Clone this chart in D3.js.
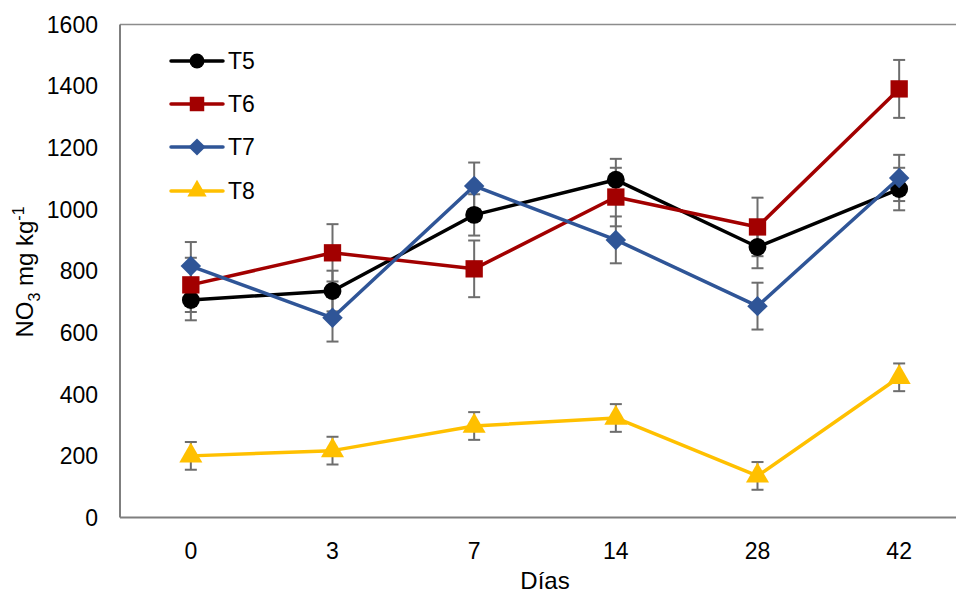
<!DOCTYPE html>
<html>
<style>
body { margin: 0; background: #fff; }
text { font-family: "Liberation Sans", Arial, sans-serif; fill: #000; }
</style>
<svg width="956" height="596"></svg>
<script src="https://cdn.jsdelivr.net/npm/d3@7"></script>
<script>
// chart data
var days = ["0", "3", "7", "14", "28", "42"];
var yTicks = [0, 200, 400, 600, 800, 1000, 1200, 1400, 1600];
var seriesNames = ["T5", "T6", "T7", "T8"];
var t5 = [706, 735, 982, 1096, 878, 1066];
var t5err = [66, 66, 67, 68, 69, 69];
var t6 = [755, 859, 807, 1040, 943, 1391];
var t6err = [88, 93, 92, 95, 95, 94];
var t7 = [816, 648, 1076, 901, 686, 1102];
var t7err = [78, 77, 76, 76, 76, 75];
var t8 = [200, 217, 297, 323, 135, 455];
var t8err = [45, 45, 45, 45, 45, 45];

var colors = ["#000000", "#A20000", "#2F5597", "#FFC000"];
// diamond = square turned 45 degrees, like the spreadsheet marker
var shapes = [d3.symbolCircle, d3.symbolSquare, d3.symbolSquare, d3.symbolTriangle];
var turns = [0, 0, 45, 0];
var sizes = [250, 300, 210, 230];

var series = [
  { name: seriesNames[0], vals: t5, err: t5err },
  { name: seriesNames[1], vals: t6, err: t6err },
  { name: seriesNames[2], vals: t7, err: t7err },
  { name: seriesNames[3], vals: t8, err: t8err }
];

var svg = d3.select("svg");
var pLeft = 120, pRight = 970, pTop = 24.5, pBottom = 517.5;

var x = d3.scaleBand().domain(days).range([pLeft, pRight]).padding(0);
var y = d3.scaleLinear().domain([0, 1600]).range([pBottom, pTop]);
var cx = function(d) { return x(d) + x.bandwidth() / 2; };

// axis frame
svg.append("line").attr("x1", pLeft).attr("x2", pRight).attr("y1", pTop).attr("y2", pTop)
    .attr("stroke", "#8c8c8c").attr("stroke-width", 1.5);
svg.append("line").attr("x1", pLeft).attr("x2", pLeft).attr("y1", pTop).attr("y2", pBottom)
    .attr("stroke", "#7f7f7f").attr("stroke-width", 2);
svg.append("line").attr("x1", pLeft).attr("x2", pRight).attr("y1", pBottom).attr("y2", pBottom)
    .attr("stroke", "#7f7f7f").attr("stroke-width", 2);

// tick labels
svg.append("g").selectAll("text").data(yTicks).enter().append("text")
    .attr("x", 98).attr("y", function(d) { return y(d); })
    .attr("dy", "0.36em").attr("text-anchor", "end").style("font-size", "23px")
    .text(function(d) { return d; });

svg.append("g").selectAll("text").data(days).enter().append("text")
    .attr("x", cx).attr("y", 551).attr("dy", "0.36em")
    .attr("text-anchor", "middle").style("font-size", "23px")
    .text(function(d) { return d; });

// axis titles
svg.append("text").attr("x", 545).attr("y", 589).attr("text-anchor", "middle")
    .style("font-size", "24px").text("Días");

var yl = svg.append("text").attr("transform", "translate(33,272) rotate(-90)")
    .attr("text-anchor", "middle").style("font-size", "24px");
yl.append("tspan").text("NO");
yl.append("tspan").attr("dy", 7).style("font-size", "16px").text("3");
yl.append("tspan").attr("dy", -7).text(" mg kg");
yl.append("tspan").attr("dy", -9).style("font-size", "16px").text("-1");

// error bars first, markers go on top
series.forEach(function(s) {
  var g = svg.append("g").attr("stroke", "#6d6d6d").attr("stroke-width", 2);
  s.vals.forEach(function(v, i) {
    var px = cx(days[i]);
    g.append("line").attr("x1", px).attr("x2", px)
        .attr("y1", y(v - s.err[i])).attr("y2", y(v + s.err[i]));
    [v - s.err[i], v + s.err[i]].forEach(function(e) {
      g.append("line").attr("x1", px - 6).attr("x2", px + 6)
          .attr("y1", y(e)).attr("y2", y(e));
    });
  });
});

var line = d3.line().x(function(d, i) { return cx(days[i]); }).y(function(d) { return y(d); });

series.forEach(function(s, k) {
  svg.append("path").datum(s.vals).attr("d", line)
      .attr("fill", "none").attr("stroke", colors[k]).attr("stroke-width", 3.5)
      .attr("stroke-linejoin", "round");
  svg.append("g").selectAll("path").data(s.vals).enter().append("path")
      .attr("transform", function(d, i) {
        return "translate(" + cx(days[i]) + "," + y(d) + ") rotate(" + turns[k] + ")";
      })
      .attr("d", d3.symbol().type(shapes[k]).size(sizes[k]))
      .attr("fill", colors[k]);
});

// legend
var legY = [61, 104, 147, 191];
series.forEach(function(s, k) {
  var g = svg.append("g").attr("transform", "translate(0," + legY[k] + ")");
  g.append("line").attr("x1", 171).attr("x2", 223).attr("y1", 0).attr("y2", 0)
      .attr("stroke", colors[k]).attr("stroke-width", 3.5).attr("stroke-linecap", "round");
  g.append("path").attr("transform", "translate(197,0) rotate(" + turns[k] + ")")
      .attr("d", d3.symbol().type(shapes[k]).size(sizes[k] * 0.7))
      .attr("fill", colors[k]);
  g.append("text").attr("x", 228).attr("y", 0).attr("dy", "0.36em")
      .style("font-size", "23px").text(s.name);
});
</script>
</html>
